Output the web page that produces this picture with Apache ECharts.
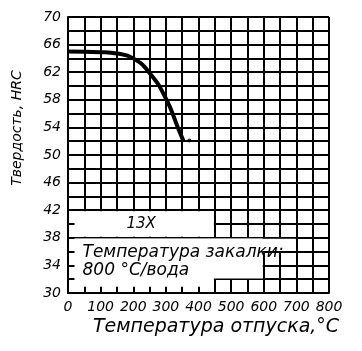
<!DOCTYPE html>
<html>
<head>
<meta charset="utf-8">
<script src="https://cdn.jsdelivr.net/npm/echarts@6/dist/echarts.min.js"></script>
<style>
body { margin: 0; background: #fff; }
#chart { width: 362px; height: 351px; }
</style>
</head>
<body>
<div id="chart"></div>
<script>
// кривая: температура отпуска -> твердость
var temps = [0, 100, 150, 200, 250, 300, 340, 355];
var hardness = [65, 64.9, 64.7, 64, 61.9, 58.2, 53.6, 51.9];
var endMark = [[372, 52.1]];

var xTicks = [0, 100, 200, 300, 400, 500, 600, 700, 800];
var yTicks = [30, 34, 38, 42, 46, 50, 54, 58, 62, 66, 70];

var steelName = '13X';
var quenchText = ['Температура закалки:', '800 °C/вода'];

var font = 'DejaVu Sans';

var curve = [];
for (var i = 0; i < temps.length; i++) {
	curve.push([temps[i], hardness[i]]);
}

// белые поля поверх сетки; отступ от осей оставляет короткие штрихи сетки (засечки)
var blank = { color: '#fff', borderWidth: 0 };
var x0 = 20, y0 = 30.9;

option = {
	animation : false,
	grid : { left : 68, top : 17, right : 33, bottom : 58 },
	xAxis : [{
		type : 'value', min : 0, max : 800, interval : 50, position : 'bottom',
		axisLine : { show : false }, axisTick : { show : false }, axisLabel : { show : false },
		splitLine : { show : true, lineStyle : { color : '#000', width : 2 } }
	}, {
		type : 'value', min : 0, max : 800, interval : 50, position : 'bottom', z : 10,
		axisLine : { show : true, lineStyle : { color : '#000', width : 2 } },
		axisTick : { show : false },
		axisLabel : {
			margin : 7, color : '#000', fontSize : 14, fontStyle : 'italic', fontFamily : font,
			formatter : function(v) { return xTicks.indexOf(v) >= 0 ? v : ''; }
		},
		splitLine : { show : false }
	}],
	yAxis : [{
		type : 'value', min : 30, max : 70, interval : 2, position : 'left',
		axisLine : { show : false }, axisTick : { show : false }, axisLabel : { show : false },
		splitLine : { show : true, lineStyle : { color : '#000', width : 2 } }
	}, {
		type : 'value', min : 30, max : 70, interval : 2, position : 'left', z : 10,
		axisLine : { show : true, lineStyle : { color : '#000', width : 2 } },
		axisTick : { show : false },
		axisLabel : {
			margin : 7, color : '#000', fontSize : 14, fontStyle : 'italic', fontFamily : font,
			formatter : function(v) { return yTicks.indexOf(v) >= 0 ? v : ''; }
		},
		splitLine : { show : false }
	}],
	graphic : [{
		type : 'text', x : 17, y : 128, rotation : Math.PI / 2, z : 20,
		style : { text : 'Твердость, HRC', fill : '#000', font : 'italic 14px "' + font + '"', align : 'center', verticalAlign : 'middle' }
	}, {
		type : 'text', x : 216, y : 327, z : 20,
		style : { text : 'Температура отпуска,°C', fill : '#000', font : 'italic 19px "' + font + '"', align : 'center', verticalAlign : 'middle' }
	}],
	series : [{
		type : 'line',
		data : curve,
		smooth : true,
		symbol : 'none',
		lineStyle : { color : '#000', width : 4 },
		markArea : {
			silent : true,
			data : [
				[{ coord : [x0, 41.85], itemStyle : blank,
				   label : { show : true, position : 'inside', offset : [-3, 0], formatter : steelName, color : '#000', fontSize : 15, fontStyle : 'italic', fontFamily : font } },
				 { coord : [447, 38.15] }],
				[{ coord : [x0, 37.85], itemStyle : blank }, { coord : [697, 36.1] }],
				[{ coord : [x0, 37.9], itemStyle : blank,
				   label : { show : true, position : [8, 5], formatter : quenchText.join('\n'), lineHeight : 18, align : 'left',
				             color : '#000', fontSize : 17, fontStyle : 'italic', fontFamily : font } },
				 { coord : [597, 32.1] }],
				[{ coord : [x0, 32.5], itemStyle : blank }, { coord : [447, y0] }]
			]
		}
	}, {
		type : 'scatter',
		data : endMark,
		symbolSize : 4,
		itemStyle : { color : '#000' }
	}]
};

var chart = echarts.init(document.getElementById('chart'));
chart.setOption(option);
</script>
</body>
</html>
